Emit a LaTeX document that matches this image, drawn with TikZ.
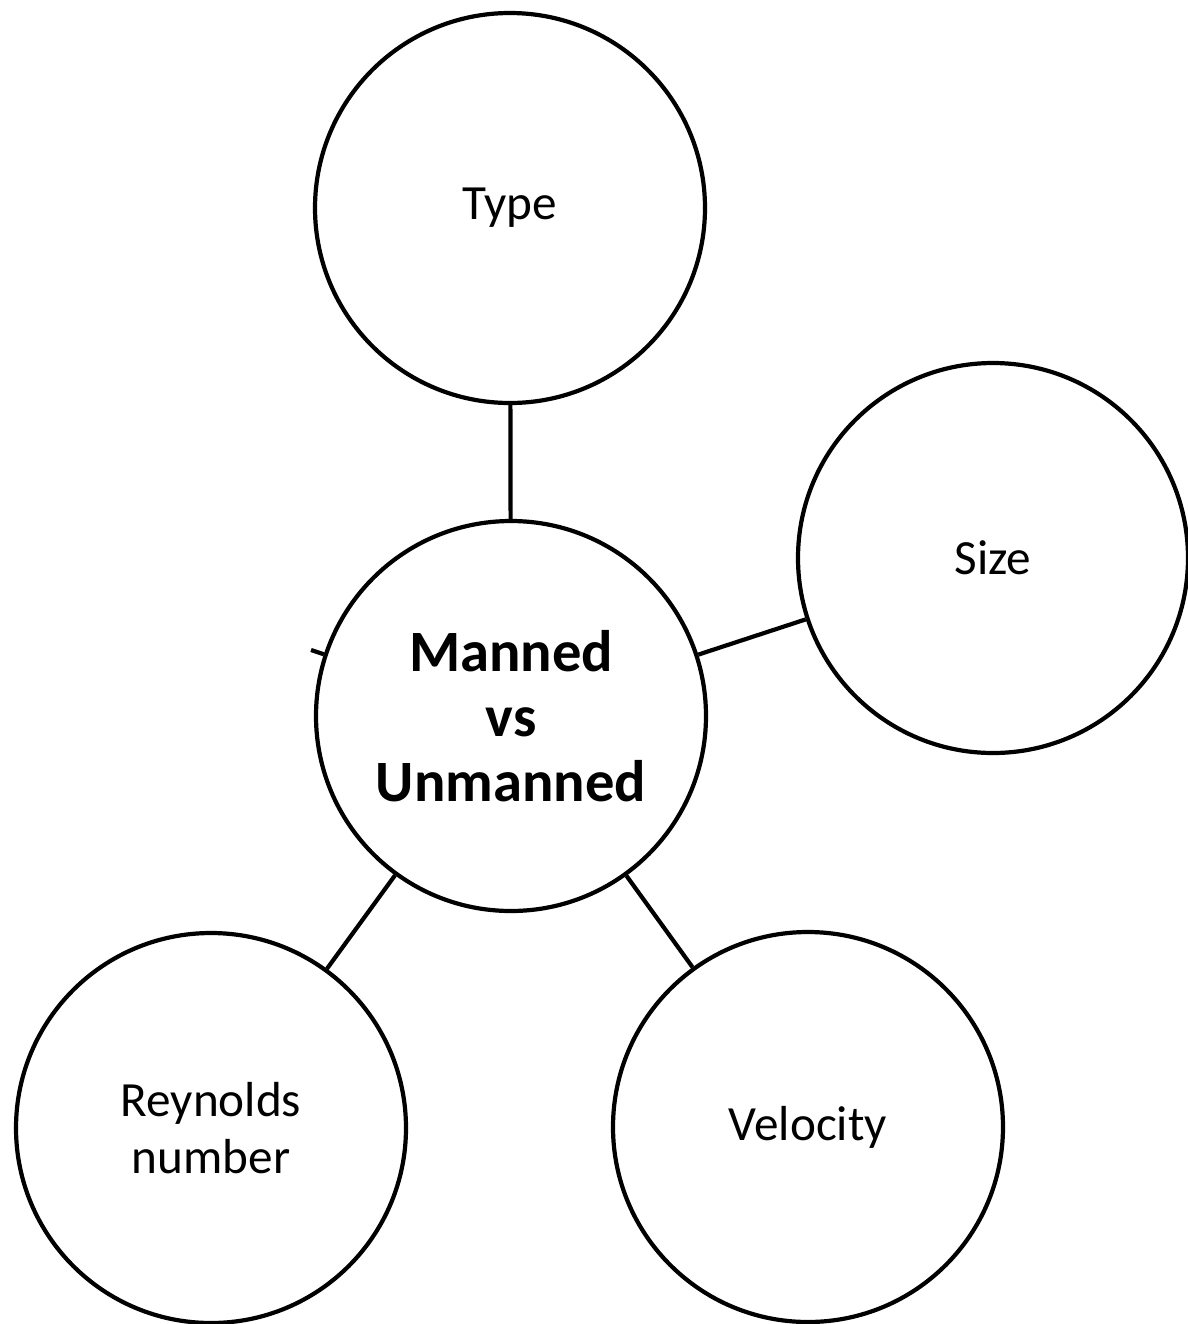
\documentclass[tikz,border=0pt]{standalone}
\usepackage{fontspec}
\setmainfont{Carlito}
\usetikzlibrary{arrows.meta}
\definecolor{cline}{RGB}{0,0,0}

\begin{document}
\begin{tikzpicture}[x=0.5pt, y=-0.5pt,
  topic/.style={circle, draw=cline, line width=2.1pt, minimum size=195pt,
    inner sep=0pt, align=center, font=\fontsize{24.6}{28.5}\selectfont},
  hub/.style={topic, font=\fontsize{29.3}{32.5}\selectfont\bfseries},
  link/.style={draw=cline, line width=2.1pt}]
\useasboundingbox (0,0) rectangle (1188,1324);
\node[hub] (mvu) at (511,716) {Manned\\vs\\Unmanned};
\node[topic] (type) at (510,208) {Type};
\node[topic] (size) at (993,558) {Size};
\node[topic] (reyn) at (211,1128) {Reynolds\\number};
\node[topic] (velo) at (808,1127) {Velocity};
\coordinate (stub) at (311,650);
\draw[link] (mvu) -- (type);
\draw[link] (mvu) -- (size);
\draw[link] (mvu) -- (reyn);
\draw[link] (mvu) -- (velo);
\draw[link] (mvu) -- (stub);
\end{tikzpicture}
\end{document}
